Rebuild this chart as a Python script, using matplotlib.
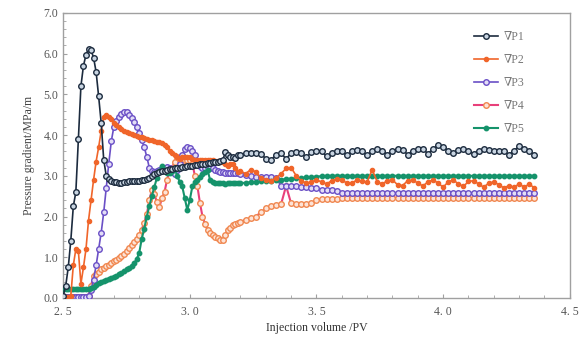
import numpy as np
import matplotlib
matplotlib.use("Agg")
import matplotlib.pyplot as plt
from matplotlib.ticker import MultipleLocator

plt.rcParams['font.family'] = ['Liberation Serif', 'DejaVu Serif']

# sample positions: 0.01 PV up to 3.20, then 0.02 PV
pv = np.round(np.concatenate([np.arange(2.50, 3.205, 0.01),
                              np.arange(3.22, 4.365, 0.02)]), 2)

p1 = [0.05, 0.30, 0.75, 1.40, 2.25, 2.60, 3.90, 5.20, 5.70, 5.97,
      6.12, 6.08, 5.90, 5.55, 4.95, 4.30, 3.40, 3.00, 2.92, 2.88,
      2.85, 2.84, 2.83, 2.83, 2.84, 2.85, 2.86, 2.86, 2.87, 2.88,
      2.88, 2.89, 2.90, 2.92, 2.95, 3.00, 3.05, 3.08, 3.10, 3.12,
      3.13, 3.15, 3.16, 3.17, 3.18, 3.19, 3.20, 3.21, 3.22, 3.23,
      3.24, 3.25, 3.26, 3.27, 3.28, 3.29, 3.30, 3.31, 3.32, 3.33,
      3.34, 3.35, 3.36, 3.38, 3.58, 3.50, 3.46, 3.45, 3.44, 3.50,
      3.52,
      3.55, 3.56, 3.55, 3.54, 3.42, 3.38, 3.52, 3.55, 3.42, 3.55,
      3.58, 3.55, 3.45, 3.58, 3.62, 3.60, 3.48, 3.55, 3.62, 3.60,
      3.50, 3.60, 3.64, 3.60, 3.50, 3.62, 3.66, 3.62, 3.52, 3.62,
      3.66, 3.64, 3.52, 3.62, 3.65, 3.66, 3.54, 3.66, 3.75, 3.70,
      3.62, 3.55, 3.64, 3.66, 3.62, 3.54, 3.62, 3.65, 3.64, 3.60,
      3.62, 3.60, 3.52, 3.62, 3.72, 3.65, 3.60, 3.52]

p2 = [0.02, 0.02, 0.02, 0.05, 0.80, 1.20, 1.15, 0.35, 0.75, 1.20,
      1.90, 2.40, 2.90, 3.35, 3.70, 4.10, 4.45, 4.50, 4.45, 4.40,
      4.30, 4.25, 4.20, 4.15, 4.10, 4.08, 4.05, 4.02, 4.00, 3.98,
      3.96, 3.95, 3.93, 3.90, 3.88, 3.87, 3.86, 3.84, 3.82, 3.80,
      3.75, 3.70, 3.60, 3.55, 3.50, 3.45, 3.42, 3.45, 3.46, 3.46,
      3.45, 3.42, 3.40, 3.40, 3.40, 3.40, 3.39, 3.39, 3.38, 3.38,
      3.37, 3.36, 3.35, 3.33, 3.30, 3.25, 3.28, 3.30, 3.20, 3.10,
      3.12,
      3.05, 3.15, 3.10, 2.95, 2.90, 2.88, 2.95, 3.05, 3.18, 3.20,
      3.00, 2.88, 2.82, 2.85, 2.90, 2.85, 2.80, 2.88, 2.92, 2.90,
      2.82, 2.82, 2.90, 2.86, 2.85, 3.15, 2.85, 2.80, 2.88, 2.90,
      2.78, 2.76, 2.88, 2.90, 2.82, 2.75, 2.85, 2.90, 2.82, 2.72,
      2.85, 2.90, 2.80, 2.74, 2.86, 2.88, 2.80, 2.72, 2.82, 2.85,
      2.78, 2.70, 2.76, 2.72, 2.80, 2.72, 2.80, 2.70]

p3 = [0.02, 0.02, 0.02, 0.02, 0.02, 0.02, 0.02, 0.02, 0.02, 0.03,
      0.05, 0.20, 0.45, 0.80, 1.20, 1.60, 2.10, 2.70, 3.30, 3.85,
      4.20, 4.35, 4.45, 4.52, 4.57, 4.57, 4.50, 4.42, 4.32, 4.20,
      4.05, 3.88, 3.70, 3.47, 3.20, 3.12, 3.10, 3.12, 3.15, 3.18,
      3.20, 3.22, 3.20, 3.10, 3.05, 3.15, 3.30, 3.50, 3.65, 3.70,
      3.68, 3.60, 3.50, 3.35, 3.25, 3.20, 3.20, 3.22, 3.20, 3.18,
      3.15, 3.12, 3.10, 3.10, 3.08, 3.08, 3.07, 3.07, 3.06, 3.06,
      3.05,
      3.02, 3.00, 2.98, 2.97, 2.96, 2.96, 2.94, 2.76, 2.75, 2.74,
      2.74, 2.73, 2.72, 2.71, 2.70, 2.66, 2.65, 2.64, 2.63, 2.58,
      2.58, 2.58, 2.58, 2.58, 2.58, 2.58, 2.58, 2.58, 2.58, 2.58,
      2.58, 2.58, 2.58, 2.58, 2.58, 2.58, 2.58, 2.58, 2.58, 2.58,
      2.58, 2.58, 2.58, 2.58, 2.58, 2.58, 2.58, 2.58, 2.58, 2.58,
      2.58, 2.58, 2.58, 2.58, 2.58, 2.58, 2.58, 2.58]

p4 = [0.03, 0.03, 0.03, 0.03, 0.03, 0.03, 0.03, 0.03, 0.03, 0.03,
      0.05, 0.30, 0.55, 0.60, 0.65, 0.70, 0.74, 0.78, 0.82, 0.86,
      0.90, 0.94, 0.98, 1.02, 1.08, 1.15, 1.22, 1.30, 1.38, 1.46,
      1.55, 1.68, 1.85, 2.05, 2.40, 2.65, 2.55, 2.35, 2.24, 2.45,
      2.60, 2.90, 3.10, 3.20, 3.35, 3.47, 3.40, 3.31, 3.40, 3.39,
      3.39, 3.30, 3.00, 2.74, 2.33, 2.00, 1.82, 1.67, 1.60, 1.55,
      1.50, 1.47, 1.43, 1.43, 1.55, 1.67, 1.72, 1.78, 1.82, 1.84,
      1.87,
      1.92, 1.96, 2.00, 2.10, 2.20, 2.25, 2.28, 2.30, 2.75, 2.32,
      2.30, 2.30, 2.31, 2.32, 2.40, 2.42, 2.42, 2.43, 2.44, 2.46,
      2.46, 2.46, 2.46, 2.46, 2.46, 2.46, 2.46, 2.46, 2.46, 2.46,
      2.46, 2.46, 2.46, 2.46, 2.46, 2.46, 2.46, 2.46, 2.46, 2.46,
      2.46, 2.46, 2.46, 2.46, 2.46, 2.46, 2.46, 2.46, 2.46, 2.46,
      2.46, 2.46, 2.46, 2.46, 2.46, 2.46, 2.46, 2.46]

p5 = [0.22, 0.22, 0.22, 0.22, 0.22, 0.22, 0.22, 0.22, 0.22, 0.22,
      0.22, 0.24, 0.28, 0.33, 0.37, 0.40, 0.42, 0.45, 0.47, 0.50,
      0.52, 0.55, 0.58, 0.62, 0.66, 0.70, 0.74, 0.78, 0.85, 0.95,
      1.10, 1.45, 1.70, 2.00, 2.25, 2.50, 2.73, 2.95, 3.12, 3.23,
      3.15, 3.06, 3.08, 3.12, 3.20, 3.00, 2.85, 2.74, 2.45, 2.16,
      2.41, 2.74, 2.85, 2.90, 2.98, 3.05, 3.10, 3.14, 2.90, 2.85,
      2.82, 2.82, 2.82, 2.82, 2.81, 2.82, 2.82, 2.82, 2.82, 2.82,
      2.82,
      2.83, 2.84, 2.85, 2.86, 2.87, 2.88, 2.89, 2.90, 2.92, 2.93,
      2.94, 2.95, 2.96, 2.97, 2.98, 2.99, 3.00, 3.00, 3.00, 3.00,
      3.00, 3.00, 3.00, 3.00, 3.00, 3.00, 3.00, 3.00, 3.00, 3.00,
      3.00, 3.00, 3.00, 3.00, 3.00, 3.00, 3.00, 3.00, 3.00, 3.00,
      3.00, 3.00, 3.00, 3.00, 3.00, 3.00, 3.00, 3.00, 3.00, 3.00,
      3.00, 3.00, 3.00, 3.00, 3.00, 3.00, 3.00, 3.00]

labels = ['∇P1', '∇P2', '∇P3', '∇P4', '∇P5']
xticks = [2.5, 3.0, 3.5, 4.0, 4.5]
xticklabels = ['2. 5', '3. 0', '3. 5', '4. 0', '4. 5']

fig = plt.figure(figsize=(5.85, 3.39), dpi=100)
ax = fig.add_axes([0.108, 0.121, 0.866, 0.841])

ax.plot(pv, p1, color='#1c2b3e', lw=1.2, marker='o', ms=4.0,
        mfc='#c9d5e2', mec='#1c2b3e', mew=1.0, label=labels[0], zorder=6)
ax.plot(pv, p2, color='#f0652a', lw=1.2, marker='o', ms=3.0,
        mfc='#f0652a', mec='#f0652a', label=labels[1], zorder=5)
ax.plot(pv, p3, color='#6a4fc6', lw=1.2, marker='o', ms=4.0,
        mfc='#e2ddf6', mec='#6a4fc6', mew=1.0, label=labels[2], zorder=4)
ax.plot(pv, p4, color='#e8407a', lw=1.5, marker='o', ms=4.0,
        mfc='#fde3d6', mec='#f0874f', mew=1.0, label=labels[3], zorder=3)
ax.plot(pv, p5, color='#15936b', lw=1.5, marker='o', ms=3.2,
        mfc='#15936b', mec='#15936b', label=labels[4], zorder=4.5)

ax.set_xlim(2.5, 4.5)
ax.set_ylim(0, 7.0)
ax.set_xticks(xticks)
ax.set_xticklabels(xticklabels)
ax.set_yticks(np.arange(0, 7.01, 1.0))
ax.set_yticklabels(['%.1f' % v for v in np.arange(0, 7.01, 1.0)])
ax.xaxis.set_minor_locator(MultipleLocator(0.1))
ax.yaxis.set_minor_locator(MultipleLocator(0.2))
ax.tick_params(which='both', direction='in', colors='#a0a0a0',
               labelcolor='#555555', labelsize=8.5)
ax.tick_params(which='major', length=3)
ax.tick_params(which='minor', length=2)
ax.tick_params(axis='x', pad=6)
for s in ax.spines.values():
    s.set_color('#a0a0a0')
    s.set_linewidth(1.0)

ax.set_xlabel('Injection volume /PV', fontsize=8.5, color='#333333', labelpad=3)
ax.set_ylabel('Pressure gradient/MPa/m', fontsize=8.5, color='#444444', labelpad=6)

leg = ax.legend(loc='upper left', bbox_to_anchor=(0.79, 0.975), frameon=False,
                fontsize=8.5, handlelength=2.0, labelspacing=0.95,
                handletextpad=0.5)
for t in leg.get_texts():
    t.set_color('#777777')

fig.savefig('out.png', dpi=100)
